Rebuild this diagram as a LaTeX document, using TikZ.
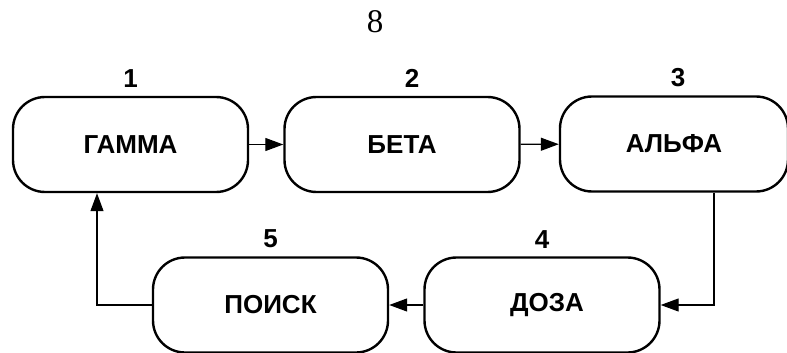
\documentclass[tikz,border=0pt]{standalone}
\usepackage{fontspec}
\setmainfont{Liberation Serif}
\setsansfont{Liberation Sans}
\usetikzlibrary{arrows.meta}
\tikzset{
stage/.style={
	  draw, line width=1.2pt, rounded corners=16pt,
	    minimum width=117.5pt, minimum height=47.5pt, inner sep=0pt,
    font=\sffamily\bfseries\fontsize{13}{15}\selectfont},
num/.style={font=\sffamily\bfseries\fontsize{13}{15}\selectfont, label distance=0.5pt},
flow/.style={-{Triangle[length=9pt,width=6.5pt]}, line width=0.6pt}
}

\begin{document}
\begin{tikzpicture}[x=0.5pt, y=-0.5pt]
	\useasboundingbox (0,0) rectangle (787,353);
	\node[font=\fontsize{16.5}{18}\selectfont] (page) at (375,22) {8};
	\node[stage, label={[num]above:1}] (gamma) at (130.5,144.5) {\raisebox{-1.5pt}{ГАММА}};
	\node[stage, label={[num, xshift=5pt]above:2}] (beta) at (402,144.5) {БЕТА};
	\node[stage, minimum width=114pt, label={[num, xshift=2pt]above:3}] (alpha) at (674,144) {АЛЬФА};
	\node[stage, label={[num]above:4}] (dose) at (542,305) {\hspace*{5pt}\raisebox{-1.5pt}{ДОЗА}};
	\node[stage, label={[num]above:5}] (search) at (270.5,305) {ПОИСК};
	\draw[flow] (gamma) -- (beta);
	\draw[flow] (beta) -- (alpha);
	\draw[flow] ([xshift=20pt]alpha.south) |- (dose.east);
	\draw[flow] (dose) -- (search);
	\draw[flow] (search.west) -| ([xshift=-16.75pt]gamma.south);
\end{tikzpicture}
\end{document}
